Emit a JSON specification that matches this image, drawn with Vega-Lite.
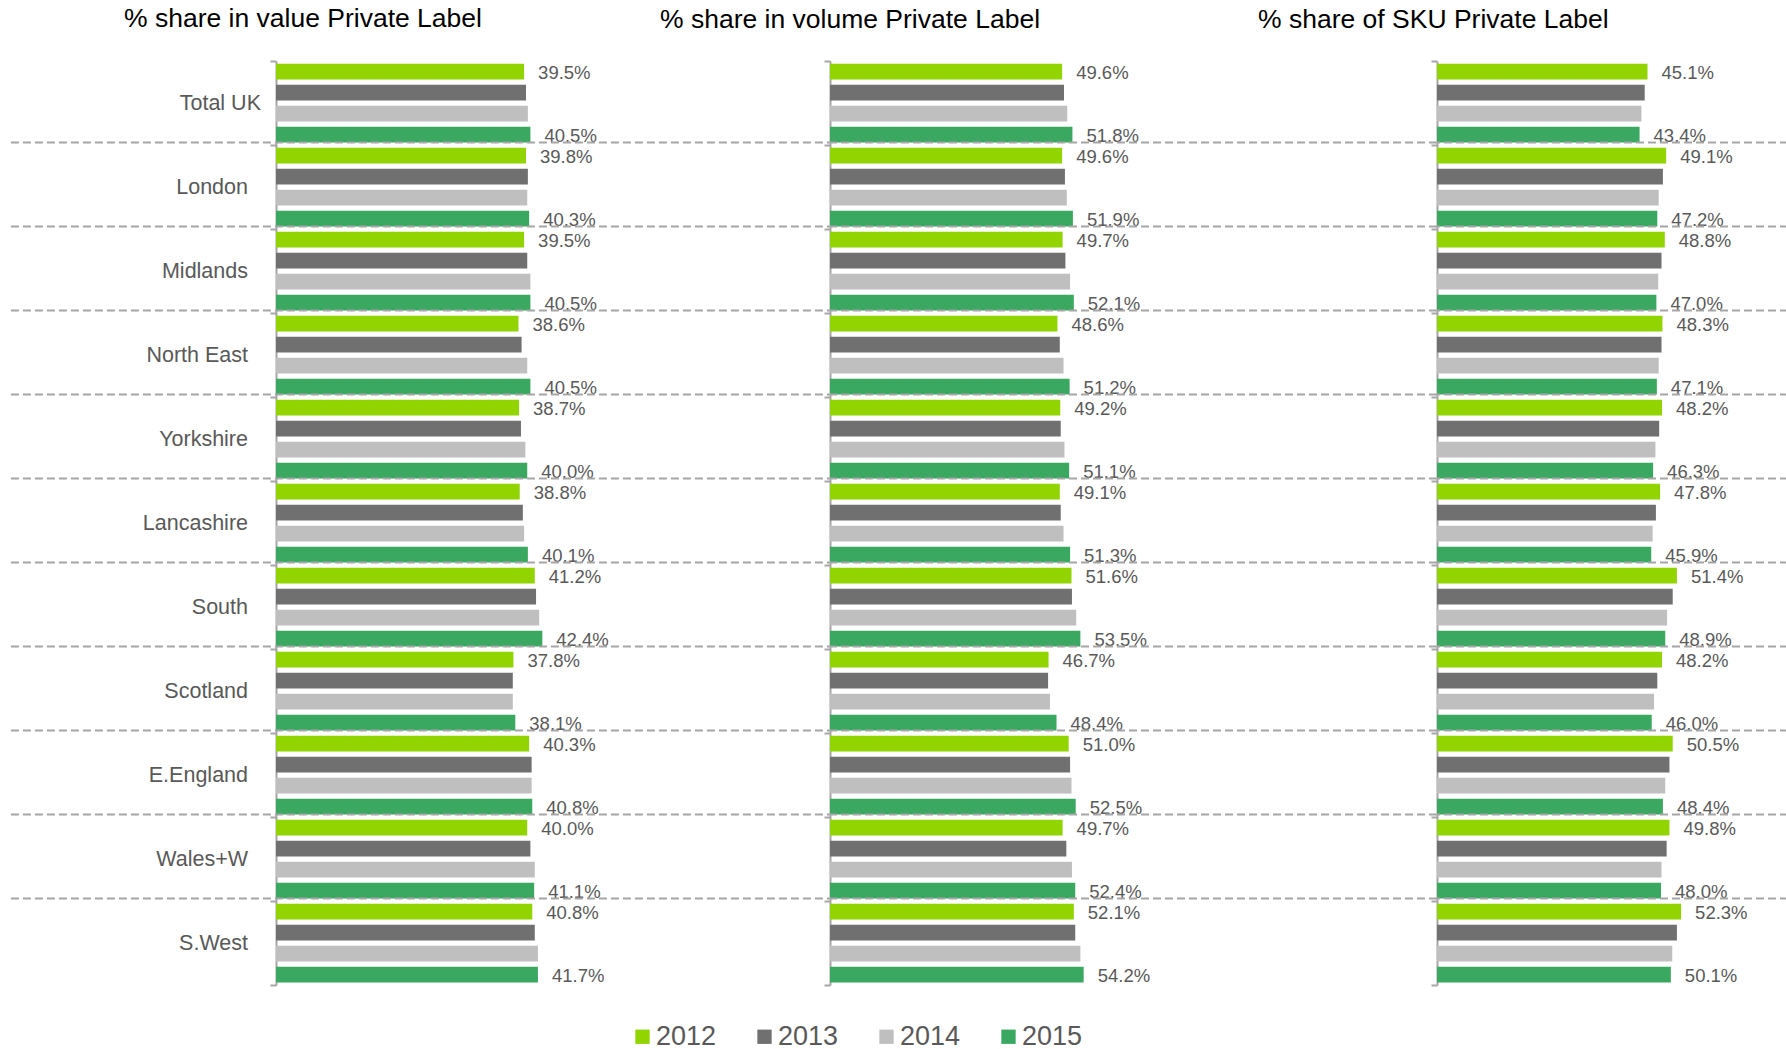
{
  "$schema": "https://vega.github.io/schema/vega-lite/v6.json",
  "background": "white",
  "padding": {"left": 9, "top": 5, "right": 0, "bottom": 0},
  "bounds": "flush",
  "spacing": 0,
  "datasets": {
    "shares": [
      {"metric": "value", "region": "Total UK", "year": 2012, "share": 39.5},
      {"metric": "value", "region": "Total UK", "year": 2013, "share": 39.8},
      {"metric": "value", "region": "Total UK", "year": 2014, "share": 40.1},
      {"metric": "value", "region": "Total UK", "year": 2015, "share": 40.5},
      {"metric": "value", "region": "London", "year": 2012, "share": 39.8},
      {"metric": "value", "region": "London", "year": 2013, "share": 40.1},
      {"metric": "value", "region": "London", "year": 2014, "share": 40.0},
      {"metric": "value", "region": "London", "year": 2015, "share": 40.3},
      {"metric": "value", "region": "Midlands", "year": 2012, "share": 39.5},
      {"metric": "value", "region": "Midlands", "year": 2013, "share": 40.0},
      {"metric": "value", "region": "Midlands", "year": 2014, "share": 40.5},
      {"metric": "value", "region": "Midlands", "year": 2015, "share": 40.5},
      {"metric": "value", "region": "North East", "year": 2012, "share": 38.6},
      {"metric": "value", "region": "North East", "year": 2013, "share": 39.1},
      {"metric": "value", "region": "North East", "year": 2014, "share": 40.0},
      {"metric": "value", "region": "North East", "year": 2015, "share": 40.5},
      {"metric": "value", "region": "Yorkshire", "year": 2012, "share": 38.7},
      {"metric": "value", "region": "Yorkshire", "year": 2013, "share": 39.0},
      {"metric": "value", "region": "Yorkshire", "year": 2014, "share": 39.7},
      {"metric": "value", "region": "Yorkshire", "year": 2015, "share": 40.0},
      {"metric": "value", "region": "Lancashire", "year": 2012, "share": 38.8},
      {"metric": "value", "region": "Lancashire", "year": 2013, "share": 39.3},
      {"metric": "value", "region": "Lancashire", "year": 2014, "share": 39.5},
      {"metric": "value", "region": "Lancashire", "year": 2015, "share": 40.1},
      {"metric": "value", "region": "South", "year": 2012, "share": 41.2},
      {"metric": "value", "region": "South", "year": 2013, "share": 41.4},
      {"metric": "value", "region": "South", "year": 2014, "share": 41.9},
      {"metric": "value", "region": "South", "year": 2015, "share": 42.4},
      {"metric": "value", "region": "Scotland", "year": 2012, "share": 37.8},
      {"metric": "value", "region": "Scotland", "year": 2013, "share": 37.7},
      {"metric": "value", "region": "Scotland", "year": 2014, "share": 37.7},
      {"metric": "value", "region": "Scotland", "year": 2015, "share": 38.1},
      {"metric": "value", "region": "E.England", "year": 2012, "share": 40.3},
      {"metric": "value", "region": "E.England", "year": 2013, "share": 40.7},
      {"metric": "value", "region": "E.England", "year": 2014, "share": 40.7},
      {"metric": "value", "region": "E.England", "year": 2015, "share": 40.8},
      {"metric": "value", "region": "Wales+W", "year": 2012, "share": 40.0},
      {"metric": "value", "region": "Wales+W", "year": 2013, "share": 40.5},
      {"metric": "value", "region": "Wales+W", "year": 2014, "share": 41.2},
      {"metric": "value", "region": "Wales+W", "year": 2015, "share": 41.1},
      {"metric": "value", "region": "S.West", "year": 2012, "share": 40.8},
      {"metric": "value", "region": "S.West", "year": 2013, "share": 41.2},
      {"metric": "value", "region": "S.West", "year": 2014, "share": 41.7},
      {"metric": "value", "region": "S.West", "year": 2015, "share": 41.7},
      {"metric": "volume", "region": "Total UK", "year": 2012, "share": 49.6},
      {"metric": "volume", "region": "Total UK", "year": 2013, "share": 50.0},
      {"metric": "volume", "region": "Total UK", "year": 2014, "share": 50.7},
      {"metric": "volume", "region": "Total UK", "year": 2015, "share": 51.8},
      {"metric": "volume", "region": "London", "year": 2012, "share": 49.6},
      {"metric": "volume", "region": "London", "year": 2013, "share": 50.2},
      {"metric": "volume", "region": "London", "year": 2014, "share": 50.6},
      {"metric": "volume", "region": "London", "year": 2015, "share": 51.9},
      {"metric": "volume", "region": "Midlands", "year": 2012, "share": 49.7},
      {"metric": "volume", "region": "Midlands", "year": 2013, "share": 50.3},
      {"metric": "volume", "region": "Midlands", "year": 2014, "share": 51.3},
      {"metric": "volume", "region": "Midlands", "year": 2015, "share": 52.1},
      {"metric": "volume", "region": "North East", "year": 2012, "share": 48.6},
      {"metric": "volume", "region": "North East", "year": 2013, "share": 49.1},
      {"metric": "volume", "region": "North East", "year": 2014, "share": 49.9},
      {"metric": "volume", "region": "North East", "year": 2015, "share": 51.2},
      {"metric": "volume", "region": "Yorkshire", "year": 2012, "share": 49.2},
      {"metric": "volume", "region": "Yorkshire", "year": 2013, "share": 49.3},
      {"metric": "volume", "region": "Yorkshire", "year": 2014, "share": 50.1},
      {"metric": "volume", "region": "Yorkshire", "year": 2015, "share": 51.1},
      {"metric": "volume", "region": "Lancashire", "year": 2012, "share": 49.1},
      {"metric": "volume", "region": "Lancashire", "year": 2013, "share": 49.3},
      {"metric": "volume", "region": "Lancashire", "year": 2014, "share": 49.9},
      {"metric": "volume", "region": "Lancashire", "year": 2015, "share": 51.3},
      {"metric": "volume", "region": "South", "year": 2012, "share": 51.6},
      {"metric": "volume", "region": "South", "year": 2013, "share": 51.7},
      {"metric": "volume", "region": "South", "year": 2014, "share": 52.6},
      {"metric": "volume", "region": "South", "year": 2015, "share": 53.5},
      {"metric": "volume", "region": "Scotland", "year": 2012, "share": 46.7},
      {"metric": "volume", "region": "Scotland", "year": 2013, "share": 46.6},
      {"metric": "volume", "region": "Scotland", "year": 2014, "share": 47.0},
      {"metric": "volume", "region": "Scotland", "year": 2015, "share": 48.4},
      {"metric": "volume", "region": "E.England", "year": 2012, "share": 51.0},
      {"metric": "volume", "region": "E.England", "year": 2013, "share": 51.3},
      {"metric": "volume", "region": "E.England", "year": 2014, "share": 51.6},
      {"metric": "volume", "region": "E.England", "year": 2015, "share": 52.5},
      {"metric": "volume", "region": "Wales+W", "year": 2012, "share": 49.7},
      {"metric": "volume", "region": "Wales+W", "year": 2013, "share": 50.5},
      {"metric": "volume", "region": "Wales+W", "year": 2014, "share": 51.7},
      {"metric": "volume", "region": "Wales+W", "year": 2015, "share": 52.4},
      {"metric": "volume", "region": "S.West", "year": 2012, "share": 52.1},
      {"metric": "volume", "region": "S.West", "year": 2013, "share": 52.4},
      {"metric": "volume", "region": "S.West", "year": 2014, "share": 53.5},
      {"metric": "volume", "region": "S.West", "year": 2015, "share": 54.2},
      {"metric": "sku", "region": "Total UK", "year": 2012, "share": 45.1},
      {"metric": "sku", "region": "Total UK", "year": 2013, "share": 44.5},
      {"metric": "sku", "region": "Total UK", "year": 2014, "share": 43.8},
      {"metric": "sku", "region": "Total UK", "year": 2015, "share": 43.4},
      {"metric": "sku", "region": "London", "year": 2012, "share": 49.1},
      {"metric": "sku", "region": "London", "year": 2013, "share": 48.4},
      {"metric": "sku", "region": "London", "year": 2014, "share": 47.5},
      {"metric": "sku", "region": "London", "year": 2015, "share": 47.2},
      {"metric": "sku", "region": "Midlands", "year": 2012, "share": 48.8},
      {"metric": "sku", "region": "Midlands", "year": 2013, "share": 48.1},
      {"metric": "sku", "region": "Midlands", "year": 2014, "share": 47.4},
      {"metric": "sku", "region": "Midlands", "year": 2015, "share": 47.0},
      {"metric": "sku", "region": "North East", "year": 2012, "share": 48.3},
      {"metric": "sku", "region": "North East", "year": 2013, "share": 48.1},
      {"metric": "sku", "region": "North East", "year": 2014, "share": 47.5},
      {"metric": "sku", "region": "North East", "year": 2015, "share": 47.1},
      {"metric": "sku", "region": "Yorkshire", "year": 2012, "share": 48.2},
      {"metric": "sku", "region": "Yorkshire", "year": 2013, "share": 47.6},
      {"metric": "sku", "region": "Yorkshire", "year": 2014, "share": 46.8},
      {"metric": "sku", "region": "Yorkshire", "year": 2015, "share": 46.3},
      {"metric": "sku", "region": "Lancashire", "year": 2012, "share": 47.8},
      {"metric": "sku", "region": "Lancashire", "year": 2013, "share": 46.9},
      {"metric": "sku", "region": "Lancashire", "year": 2014, "share": 46.2},
      {"metric": "sku", "region": "Lancashire", "year": 2015, "share": 45.9},
      {"metric": "sku", "region": "South", "year": 2012, "share": 51.4},
      {"metric": "sku", "region": "South", "year": 2013, "share": 50.5},
      {"metric": "sku", "region": "South", "year": 2014, "share": 49.3},
      {"metric": "sku", "region": "South", "year": 2015, "share": 48.9},
      {"metric": "sku", "region": "Scotland", "year": 2012, "share": 48.2},
      {"metric": "sku", "region": "Scotland", "year": 2013, "share": 47.2},
      {"metric": "sku", "region": "Scotland", "year": 2014, "share": 46.5},
      {"metric": "sku", "region": "Scotland", "year": 2015, "share": 46.0},
      {"metric": "sku", "region": "E.England", "year": 2012, "share": 50.5},
      {"metric": "sku", "region": "E.England", "year": 2013, "share": 49.8},
      {"metric": "sku", "region": "E.England", "year": 2014, "share": 48.9},
      {"metric": "sku", "region": "E.England", "year": 2015, "share": 48.4},
      {"metric": "sku", "region": "Wales+W", "year": 2012, "share": 49.8},
      {"metric": "sku", "region": "Wales+W", "year": 2013, "share": 49.2},
      {"metric": "sku", "region": "Wales+W", "year": 2014, "share": 48.1},
      {"metric": "sku", "region": "Wales+W", "year": 2015, "share": 48.0},
      {"metric": "sku", "region": "S.West", "year": 2012, "share": 52.3},
      {"metric": "sku", "region": "S.West", "year": 2013, "share": 51.4},
      {"metric": "sku", "region": "S.West", "year": 2014, "share": 50.4},
      {"metric": "sku", "region": "S.West", "year": 2015, "share": 50.1}
    ],
    "seps": [
      {"region": "Total UK"}, {"region": "London"}, {"region": "Midlands"}, {"region": "North East"},
      {"region": "Yorkshire"}, {"region": "Lancashire"}, {"region": "South"}, {"region": "Scotland"},
      {"region": "E.England"}, {"region": "Wales+W"}
    ]
  },
  "hconcat": [
    {
      "width": 554, "height": 924,
      "title": {"text": "% share in value Private Label", "anchor": "start", "frame": "group", "dx": -152, "offset": 18, "fontSize": 26.5, "font": "Liberation Sans", "fontWeight": "normal", "color": "#000000"},
      "layer": [
        {
          "data": {"name": "shares"},
          "transform": [{"filter": "datum.metric == 'value'"}],
          "mark": {"type": "bar"},
          "encoding": {
            "y": {"field": "region", "type": "nominal",
              "scale": {"domain": ["Total UK", "London", "Midlands", "North East", "Yorkshire", "Lancashire", "South", "Scotland", "E.England", "Wales+W", "S.West"], "paddingInner": 0, "paddingOuter": 0},
              "axis": {"title": null, "domainColor": "#a6a6a6", "domainWidth": 2, "tickColor": "#a6a6a6", "tickWidth": 2, "tickSize": 6, "tickBand": "extent", "labelFont": "Liberation Sans", "labelFontSize": 21.5, "labelColor": "#595959",
                "labelPadding": {"condition": {"test": "datum.value == 'Total UK'", "value": 9.5}, "value": 22.5}, "grid": false}},
            "yOffset": {"field": "year", "type": "nominal", "scale": {"domain": [2012, 2013, 2014, 2015], "paddingInner": 0.25, "paddingOuter": 0.125}},
            "x": {"field": "share", "type": "quantitative", "scale": {"domain": [0, 88.2], "nice": false}, "axis": null},
            "color": {"field": "year", "type": "nominal",
              "scale": {"domain": [2012, 2013, 2014, 2015], "range": ["#92d400", "#707070", "#bfbfbf", "#3aa860"]},
              "legend": {"title": null, "orient": "none", "legendX": 353, "legendY": 962, "direction": "horizontal", "symbolType": "square", "symbolSize": 205, "symbolStrokeWidth": 0, "labelFontSize": 27, "labelFont": "Liberation Sans", "labelColor": "#595959", "labelOffset": 0, "columnPadding": 34, "padding": 0}}
          }
        },
        {
          "data": {"name": "shares"},
          "transform": [{"filter": "datum.metric == 'value' && (datum.year == 2012 || datum.year == 2015)"}, {"calculate": "format(datum.share, '.1f') + '%'", "as": "label"}],
          "mark": {"type": "text", "align": "left", "baseline": "middle", "dx": 14, "dy": 1, "fontSize": 18.5, "font": "Liberation Sans", "color": "#595959"},
          "encoding": {
            "y": {"field": "region", "type": "nominal"},
            "yOffset": {"field": "year", "type": "nominal"},
            "x": {"field": "share", "type": "quantitative"},
            "text": {"field": "label"}
          }
        },
        {
          "data": {"name": "seps"},
          "mark": {"type": "rule", "color": "#a6a6a6", "strokeWidth": 2, "strokeDash": [8, 4]},
          "encoding": {
            "y": {"field": "region", "type": "nominal", "bandPosition": 0.97},
            "x": {"datum": -42.2},
            "x2": {"datum": 88.2}
          }
        }
      ]
    },
    {
      "width": 607, "height": 924,
      "title": {"text": "% share in volume Private Label", "anchor": "start", "frame": "group", "dx": -170, "offset": 27, "fontSize": 26.5, "font": "Liberation Sans", "fontWeight": "normal", "color": "#000000"},
      "layer": [
        {
          "data": {"name": "shares"},
          "transform": [{"filter": "datum.metric == 'volume'"}],
          "mark": {"type": "bar"},
          "encoding": {
            "y": {"field": "region", "type": "nominal",
              "scale": {"domain": ["Total UK", "London", "Midlands", "North East", "Yorkshire", "Lancashire", "South", "Scotland", "E.England", "Wales+W", "S.West"], "paddingInner": 0, "paddingOuter": 0},
              "axis": {"title": null, "labels": false, "domainColor": "#a6a6a6", "domainWidth": 2, "tickColor": "#a6a6a6", "tickWidth": 2, "tickSize": 6, "tickBand": "extent", "grid": false}},
            "yOffset": {"field": "year", "type": "nominal", "scale": {"domain": [2012, 2013, 2014, 2015], "paddingInner": 0.25, "paddingOuter": 0.125}},
            "x": {"field": "share", "type": "quantitative", "scale": {"domain": [0, 129.7], "nice": false}, "axis": null},
            "color": {"field": "year", "type": "nominal",
              "scale": {"domain": [2012, 2013, 2014, 2015], "range": ["#92d400", "#707070", "#bfbfbf", "#3aa860"]},
              "legend": {"title": null, "orient": "none", "legendX": 353, "legendY": 962, "direction": "horizontal", "symbolType": "square", "symbolSize": 205, "symbolStrokeWidth": 0, "labelFontSize": 27, "labelFont": "Liberation Sans", "labelColor": "#595959", "labelOffset": 0, "columnPadding": 34, "padding": 0}}
          }
        },
        {
          "data": {"name": "shares"},
          "transform": [{"filter": "datum.metric == 'volume' && (datum.year == 2012 || datum.year == 2015)"}, {"calculate": "format(datum.share, '.1f') + '%'", "as": "label"}],
          "mark": {"type": "text", "align": "left", "baseline": "middle", "dx": 14, "dy": 1, "fontSize": 18.5, "font": "Liberation Sans", "color": "#595959"},
          "encoding": {
            "y": {"field": "region", "type": "nominal"},
            "yOffset": {"field": "year", "type": "nominal"},
            "x": {"field": "share", "type": "quantitative"},
            "text": {"field": "label"}
          }
        },
        {
          "data": {"name": "seps"},
          "mark": {"type": "rule", "color": "#a6a6a6", "strokeWidth": 2, "strokeDash": [8, 4]},
          "encoding": {
            "y": {"field": "region", "type": "nominal", "bandPosition": 0.97}
          }
        }
      ]
    },
    {
      "width": 351, "height": 924,
      "title": {"text": "% share of SKU Private Label", "anchor": "start", "frame": "group", "dx": -179, "offset": 27, "fontSize": 26.5, "font": "Liberation Sans", "fontWeight": "normal", "color": "#000000"},
      "layer": [
        {
          "data": {"name": "shares"},
          "transform": [{"filter": "datum.metric == 'sku'"}],
          "mark": {"type": "bar"},
          "encoding": {
            "y": {"field": "region", "type": "nominal",
              "scale": {"domain": ["Total UK", "London", "Midlands", "North East", "Yorkshire", "Lancashire", "South", "Scotland", "E.England", "Wales+W", "S.West"], "paddingInner": 0, "paddingOuter": 0},
              "axis": {"title": null, "labels": false, "domainColor": "#a6a6a6", "domainWidth": 2, "tickColor": "#a6a6a6", "tickWidth": 2, "tickSize": 6, "tickBand": "extent", "grid": false}},
            "yOffset": {"field": "year", "type": "nominal", "scale": {"domain": [2012, 2013, 2014, 2015], "paddingInner": 0.25, "paddingOuter": 0.125}},
            "x": {"field": "share", "type": "quantitative", "scale": {"domain": [0, 75.2], "nice": false}, "axis": null},
            "color": {"field": "year", "type": "nominal",
              "scale": {"domain": [2012, 2013, 2014, 2015], "range": ["#92d400", "#707070", "#bfbfbf", "#3aa860"]},
              "legend": {"title": null, "orient": "none", "legendX": 353, "legendY": 962, "direction": "horizontal", "symbolType": "square", "symbolSize": 205, "symbolStrokeWidth": 0, "labelFontSize": 27, "labelFont": "Liberation Sans", "labelColor": "#595959", "labelOffset": 0, "columnPadding": 34, "padding": 0}}
          }
        },
        {
          "data": {"name": "shares"},
          "transform": [{"filter": "datum.metric == 'sku' && (datum.year == 2012 || datum.year == 2015)"}, {"calculate": "format(datum.share, '.1f') + '%'", "as": "label"}],
          "mark": {"type": "text", "align": "left", "baseline": "middle", "dx": 14, "dy": 1, "fontSize": 18.5, "font": "Liberation Sans", "color": "#595959"},
          "encoding": {
            "y": {"field": "region", "type": "nominal"},
            "yOffset": {"field": "year", "type": "nominal"},
            "x": {"field": "share", "type": "quantitative"},
            "text": {"field": "label"}
          }
        },
        {
          "data": {"name": "seps"},
          "mark": {"type": "rule", "color": "#a6a6a6", "strokeWidth": 2, "strokeDash": [8, 4]},
          "encoding": {
            "y": {"field": "region", "type": "nominal", "bandPosition": 0.97}
          }
        }
      ]
    }
  ],
  "resolve": {"scale": {"x": "independent", "y": "independent", "yOffset": "independent", "color": "shared"}},
  "config": {"view": {"stroke": null}}
}
